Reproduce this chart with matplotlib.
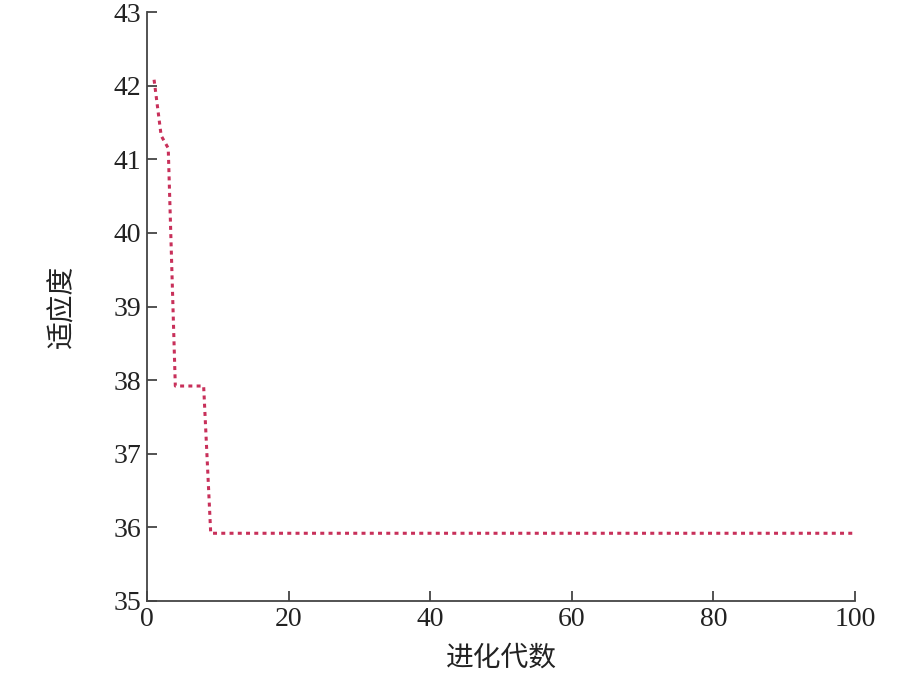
import matplotlib
matplotlib.use("Agg")
import matplotlib.pyplot as plt

generations = list(range(1, 101))
fitness = [42.08, 41.32, 41.15, 37.92, 37.92, 37.92, 37.92, 37.92,
           35.92, 35.92, 35.92, 35.92, 35.92, 35.92, 35.92, 35.92, 35.92, 35.92,
           35.92, 35.92, 35.92, 35.92, 35.92, 35.92, 35.92, 35.92, 35.92, 35.92,
           35.92, 35.92, 35.92, 35.92, 35.92, 35.92, 35.92, 35.92, 35.92, 35.92,
           35.92, 35.92, 35.92, 35.92, 35.92, 35.92, 35.92, 35.92, 35.92, 35.92,
           35.92, 35.92, 35.92, 35.92, 35.92, 35.92, 35.92, 35.92, 35.92, 35.92,
           35.92, 35.92, 35.92, 35.92, 35.92, 35.92, 35.92, 35.92, 35.92, 35.92,
           35.92, 35.92, 35.92, 35.92, 35.92, 35.92, 35.92, 35.92, 35.92, 35.92,
           35.92, 35.92, 35.92, 35.92, 35.92, 35.92, 35.92, 35.92, 35.92, 35.92,
           35.92, 35.92, 35.92, 35.92, 35.92, 35.92, 35.92, 35.92, 35.92, 35.92,
           35.92, 35.92]
xticks = [0, 20, 40, 60, 80, 100]
yticks = [35, 36, 37, 38, 39, 40, 41, 42, 43]
xlabel = "进化代数"
ylabel = "适应度"

fig = plt.figure(figsize=(9.22, 6.74), dpi=100)
ax = fig.add_axes([147/922, 73/674, 708/922, 589/674])

ax.plot(generations, fitness, color="#C8305A", lw=2.2, linestyle=(0, (1.3, 1.4)),
        dash_capstyle="butt")

ax.set_xlim(0, 100)
ax.set_ylim(35, 43)
ax.set_xticks(xticks)
ax.set_yticks(yticks)
for s in ["top", "right"]:
    ax.spines[s].set_visible(False)
for s in ["left", "bottom"]:
    ax.spines[s].set_color("#444444")
    ax.spines[s].set_linewidth(1.3)
ax.tick_params(direction="in", length=7.5, width=1.3, color="#444444",
               labelsize=20, pad=4, labelcolor="#222222")
for lab in ax.get_xticklabels() + ax.get_yticklabels():
    lab.set_family("Liberation Serif")

cjk = ["Noto Sans CJK SC", "DejaVu Sans"]
ax.set_xlabel(xlabel, fontsize=20, family=cjk, color="#222222", va="center")
ax.set_ylabel(ylabel, fontsize=20, family=cjk, color="#222222", va="center")
ax.xaxis.set_label_coords(0.5, (601 - 658) / 589)
ax.yaxis.set_label_coords((62 - 147) / 708, 0.5)

fig.savefig("out.png", dpi=100)
